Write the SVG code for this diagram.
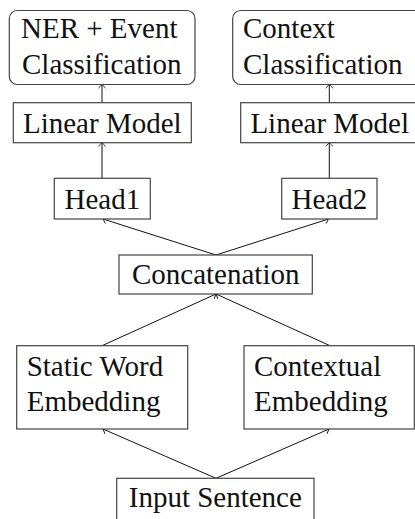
<svg xmlns="http://www.w3.org/2000/svg" width="415" height="519" viewBox="0 0 415 519">
<style>
.b{fill:#fff;stroke:#444;stroke-width:1.2}
.t{font-family:"Liberation Serif","Times New Roman",serif;font-size:29px;fill:#111}
.c{text-anchor:middle}
.e{fill:none;stroke:#111;stroke-width:1}
</style>
<defs>
<marker id="a" viewBox="-6 -6 12 12" refX="0" refY="0" markerWidth="12" markerHeight="12" markerUnits="userSpaceOnUse" orient="auto">
<path d="M-3.6,-3.6 Q-1,-0.9 0,0 Q-1,0.9 -3.6,3.6" fill="none" stroke="#111" stroke-width="0.9"/>
</marker>
</defs>
<rect width="415" height="519" fill="#fff"/>
<g id="connectors">
<line class="e" x1="102" y1="102.7" x2="102" y2="84.5" marker-end="url(#a)"/>
<line class="e" x1="102" y1="178.3" x2="102" y2="142.7" marker-end="url(#a)"/>
<line class="e" x1="329.3" y1="102.7" x2="329.3" y2="84.5" marker-end="url(#a)"/>
<line class="e" x1="329.3" y1="178.3" x2="329.3" y2="142.7" marker-end="url(#a)"/>
<line class="e" x1="216" y1="255" x2="103" y2="219" marker-end="url(#a)"/>
<line class="e" x1="216" y1="255" x2="328.5" y2="219" marker-end="url(#a)"/>
<line class="e" x1="102" y1="345.7" x2="216" y2="294" marker-end="url(#a)"/>
<line class="e" x1="330" y1="345.7" x2="216" y2="294" marker-end="url(#a)"/>
<line class="e" x1="216" y1="478.3" x2="103" y2="429" marker-end="url(#a)"/>
<line class="e" x1="216" y1="478.3" x2="329" y2="429" marker-end="url(#a)"/>
</g>
<g id="ner">
<rect class="b" x="9.3" y="10.5" width="185.7" height="74" rx="8"/>
<text class="t" x="21" y="38">NER + Event</text>
<text class="t" x="22" y="74">Classification</text>
</g>
<g id="context">
<rect class="b" x="232.7" y="10.5" width="193" height="74" rx="8"/>
<text class="t" x="243" y="38">Context</text>
<text class="t" x="243" y="74">Classification</text>
</g>
<g id="linear1">
<rect class="b" x="13.3" y="102.7" width="178" height="40"/>
<text class="t c" x="102.3" y="133.3">Linear Model</text>
</g>
<g id="linear2">
<rect class="b" x="240.7" y="102.7" width="178" height="40"/>
<text class="t c" x="329.7" y="133.3">Linear Model</text>
</g>
<g id="head1">
<rect class="b" x="54.3" y="178.3" width="96" height="40.7"/>
<text class="t c" x="102.3" y="209">Head1</text>
</g>
<g id="head2">
<rect class="b" x="281.7" y="178.3" width="95.3" height="40.7"/>
<text class="t c" x="329.3" y="209">Head2</text>
</g>
<g id="concat">
<rect class="b" x="119" y="255" width="193.3" height="39"/>
<text class="t c" x="215.7" y="284">Concatenation</text>
</g>
<g id="static">
<rect class="b" x="16.7" y="345.7" width="171" height="83.3"/>
<text class="t" x="26.7" y="375.7">Static Word</text>
<text class="t" x="26.7" y="410.7">Embedding</text>
</g>
<g id="contextual">
<rect class="b" x="244" y="345.7" width="170.3" height="83.3"/>
<text class="t" x="254" y="375.7">Contextual</text>
<text class="t" x="254" y="410.7">Embedding</text>
</g>
<g id="input">
<rect class="b" x="116.7" y="478.3" width="197.3" height="45"/>
<text class="t c" x="215.3" y="506.7">Input Sentence</text>
</g>
</svg>
